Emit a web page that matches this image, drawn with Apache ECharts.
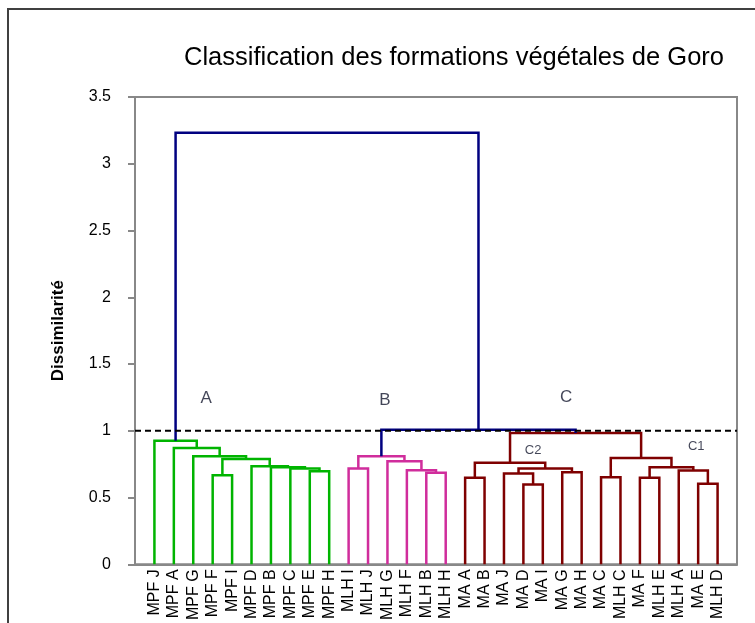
<!DOCTYPE html>
<html><head><meta charset="utf-8">
<script src="https://cdn.jsdelivr.net/npm/echarts@6/dist/echarts.min.js"></script>
<style>html,body{margin:0;padding:0;background:#fff}#c{width:755px;height:623px}</style>
</head><body><div id="c"></div>
<script>
// Leaf order along the x axis
const leaves = ['MPF J','MPF A','MPF G','MPF F','MPF I','MPF D','MPF B','MPF C','MPF E','MPF H',
  'MLH I','MLH J','MLH G','MLH F','MLH B','MLH H',
  'MA A','MA B','MA J','MA D','MA I','MA G','MA H','MA C','MLH C','MA F','MLH E','MLH A','MA E','MLH D'];
// Agglomerative merges: node id = leaves.length + merge index
const mergeLeft   = [3, 8, 7, 6, 5, 30, 2, 1, 0, 14, 13, 12, 10, 42, 19, 18, 21, 45, 16, 48, 28, 27, 25, 52, 23, 54, 49, 43, 38];
const mergeRight  = [4, 9, 31, 32, 33, 34, 35, 36, 37, 15, 39, 40, 11, 41, 20, 44, 22, 46, 17, 47, 29, 50, 26, 51, 24, 53, 55, 56, 57];
const mergeHeight = [0.668, 0.698, 0.717, 0.727, 0.735, 0.789, 0.809, 0.871, 0.926,
  0.685, 0.705, 0.772, 0.717, 0.809,
  0.598, 0.680, 0.690, 0.717, 0.648, 0.760,
  0.603, 0.702, 0.648, 0.727, 0.653, 0.797, 0.983, 1.007, 3.232];
const mergeGroup  = ['A','A','A','A','A','A','A','A','A','B','B','B','B','B',
  'C','C','C','C','C','C','C','C','C','C','C','C','C','root','root'];
const yTicks = [0, 0.5, 1, 1.5, 2, 2.5, 3, 3.5];
const cutHeight = 1;
const clusterNames = ['A','B','C','C2','C1'];

const groupColors = {A:'#00B400', B:'#D02D9C', C:'#7F0000', root:'#000080'};
// annotation anchors (data coords)
const annot = [[3.66,1.24],[12.87,1.23],[22.2,1.25],[20.5,0.85],[28.9,0.88]];
const annotSize = [17,17,17,13,13];

const n = leaves.length;
const nodeX = leaves.map((_, i) => i + 1);
const nodeH = leaves.map(() => 0);
const links = [];
mergeLeft.forEach((l, k) => {
  const r = mergeRight[k];
  nodeX.push((nodeX[l] + nodeX[r]) / 2);
  nodeH.push(mergeHeight[k]);
  links.push([nodeX[l], nodeX[r], nodeH[l], nodeH[r], mergeHeight[k], mergeGroup[k]]);
});

const FONT = 'Liberation Sans';
const chart = echarts.init(document.getElementById('c'));
chart.setOption({
  animation: false,
  backgroundColor: '#fff',
  title: {
    text: 'Classification des formations végétales de Goro',
    left: 449, top: 40, textAlign: 'center',
    textStyle: {fontFamily: FONT, fontSize: 25.5, fontWeight: 'normal', color: '#000'}
  },
  graphic: [{type: 'rect', shape: {x: 8, y: 9, width: 900, height: 800},
    style: {fill: null, stroke: '#404040', lineWidth: 2}, silent: true}],
  grid: {left: 135, right: 18, top: 97, bottom: 56, show: true, borderColor: '#888', borderWidth: 2},
  xAxis: {
    type: 'value', min: 0, max: n + 1, interval: 1,
    axisLine: {lineStyle: {color: '#888', width: 2}},
    axisTick: {show: false}, splitLine: {show: false},
    axisLabel: {
      rotate: 90, margin: 5, fontFamily: FONT, fontSize: 16, color: '#000',
      formatter: v => leaves[v - 1] || ''
    }
  },
  yAxis: {
    type: 'value', min: yTicks[0], max: yTicks[yTicks.length - 1], interval: yTicks[1] - yTicks[0],
    name: 'Dissimilarité', nameLocation: 'middle', nameGap: 68,
    nameTextStyle: {fontFamily: FONT, fontSize: 17, fontWeight: 'bold', color: '#000'},
    axisLine: {show: true, lineStyle: {color: '#888', width: 2}},
    axisTick: {show: true, length: 7, lineStyle: {color: '#888', width: 2}},
    splitLine: {show: false},
    axisLabel: {margin: 24, fontFamily: FONT, fontSize: 16, color: '#000'}
  },
  series: [
    {
      type: 'line', data: [[0, cutHeight], [n + 1, cutHeight]], symbol: 'none', z: 3,
      lineStyle: {color: '#000', width: 2, type: [6, 4]}, silent: true
    },
    {
      type: 'custom', data: links, z: 2,
      encode: {x: [0, 1], y: [2, 3, 4]},
      renderItem: (params, api) => {
        const d = links[params.dataIndex];
        const pts = [api.coord([d[0], d[2]]), api.coord([d[0], d[4]]), api.coord([d[1], d[4]]), api.coord([d[1], d[3]])];
        return {type: 'polyline', shape: {points: pts}, style: {stroke: groupColors[d[5]], lineWidth: 2.5, fill: null}};
      }
    },
    {
      type: 'scatter', symbolSize: 0, z: 4,
      data: clusterNames.map((nm, i) => ({name: nm, value: annot[i],
        label: {show: true, position: 'inside', formatter: nm, fontFamily: FONT, fontSize: annotSize[i], color: '#14182e'}}))
    }
  ]
});
</script></body></html>
